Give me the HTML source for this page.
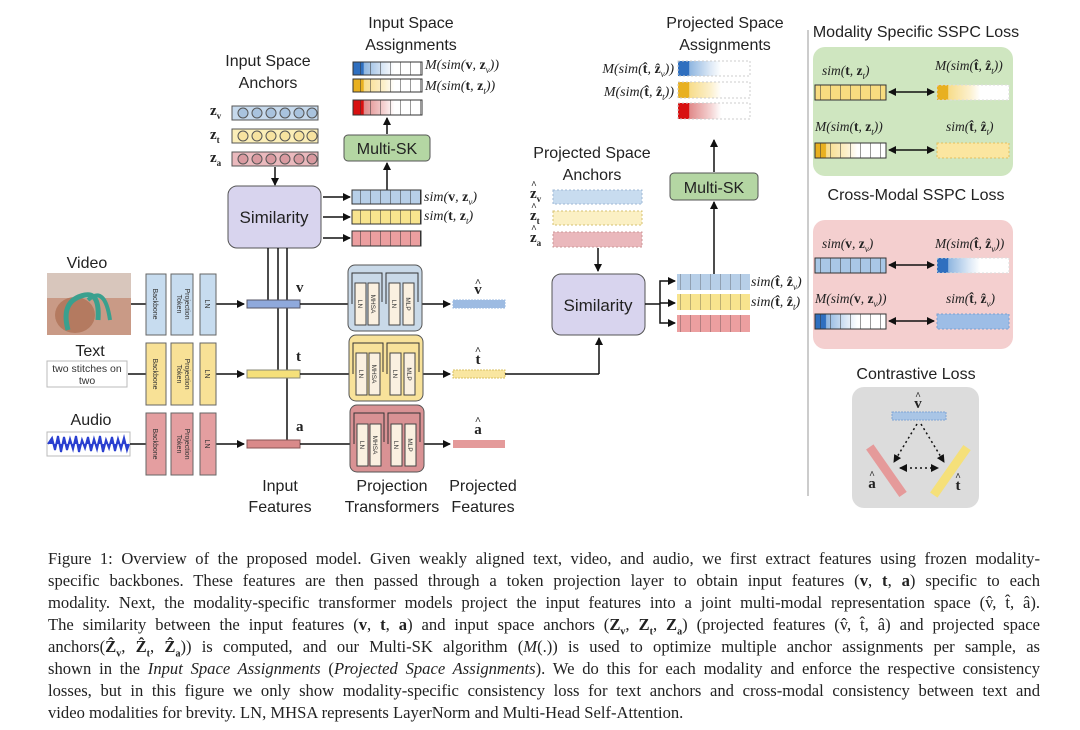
<!DOCTYPE html>
<html><head><meta charset="utf-8"><style>
body{margin:0;background:#fff;width:1080px;height:730px;overflow:hidden;position:relative;font-family:"Liberation Sans",sans-serif}
svg{position:absolute;left:0;top:0}
.cap{position:absolute;left:48px;width:992px;font-family:"Liberation Serif",serif;font-size:16.6px;line-height:22px;color:#222}
.cap div{text-align:justify;text-align-last:justify;white-space:nowrap;height:22px}
.cap div.last{text-align-last:left}
.s{font-family:"Liberation Sans",sans-serif}
.m{font-family:"Liberation Serif",serif;font-style:italic}
</style></head><body>
<svg width="1080" height="540" viewBox="0 0 1080 540" font-family="Liberation Sans, sans-serif">
<defs>
<marker id="ar" markerWidth="8" markerHeight="8" refX="7" refY="4" orient="auto" markerUnits="userSpaceOnUse"><path d="M0,0 L8,4 L0,8 z" fill="#111"/></marker>
<marker id="al" markerWidth="8" markerHeight="8" refX="1" refY="4" orient="auto" markerUnits="userSpaceOnUse"><path d="M8,0 L0,4 L8,8 z" fill="#111"/></marker>
<linearGradient id="gb" x1="0" x2="1"><stop offset="0" stop-color="#2f6fbf"/><stop offset="0.15" stop-color="#2f6fbf"/><stop offset="0.16" stop-color="#8fb6e0"/><stop offset="0.45" stop-color="#dde9f6"/><stop offset="0.6" stop-color="#fff"/></linearGradient>
<linearGradient id="gy" x1="0" x2="1"><stop offset="0" stop-color="#e8b020"/><stop offset="0.15" stop-color="#e8b020"/><stop offset="0.16" stop-color="#f7dc8a"/><stop offset="0.45" stop-color="#fcf0cc"/><stop offset="0.6" stop-color="#fff"/></linearGradient>
<linearGradient id="gr" x1="0" x2="1"><stop offset="0" stop-color="#d81010"/><stop offset="0.15" stop-color="#d81010"/><stop offset="0.16" stop-color="#e08a8a"/><stop offset="0.45" stop-color="#f4d2d2"/><stop offset="0.6" stop-color="#fff"/></linearGradient>
<pattern id="cell" width="10" height="40" patternUnits="userSpaceOnUse"><line x1="0" y1="0" x2="0" y2="40" stroke="#333" stroke-width="1"/></pattern>
</defs>

<g font-size="16" fill="#222" text-anchor="middle">
<text x="411" y="28">Input Space</text><text x="411" y="50">Assignments</text>
<text x="268" y="66">Input Space</text><text x="268" y="88">Anchors</text>
<text x="725" y="28">Projected Space</text><text x="725" y="50">Assignments</text>
<text x="592" y="158">Projected Space</text><text x="592" y="180">Anchors</text>
<text x="87" y="268">Video</text><text x="90" y="356">Text</text><text x="91" y="425">Audio</text>
<text x="280" y="491">Input</text><text x="280" y="512">Features</text>
<text x="392" y="491">Projection</text><text x="392" y="512">Transformers</text>
<text x="483" y="491">Projected</text><text x="483" y="512">Features</text>
<text x="916" y="37">Modality Specific  SSPC Loss</text>
<text x="916" y="200">Cross-Modal SSPC Loss</text>
<text x="916" y="379">Contrastive Loss</text>
</g>

<rect x="353" y="62" width="69" height="13" fill="url(#gb)" stroke="#333"/><rect x="353" y="62" width="69" height="13" fill="url(#cell)"/>
<rect x="353" y="79" width="69" height="13" fill="url(#gy)" stroke="#333"/><rect x="353" y="79" width="69" height="13" fill="url(#cell)"/>
<rect x="353" y="100" width="69" height="15" fill="url(#gr)" stroke="#333"/><rect x="353" y="100" width="69" height="15" fill="url(#cell)"/>
<g class="m" font-size="14" fill="#222"><text x="425" y="69">M(sim(<tspan font-weight="bold" font-style="normal">v</tspan>, <tspan font-weight="bold" font-style="normal">z</tspan><tspan font-size="9" dy="4">v</tspan><tspan dy="-4">))</tspan></text>
<text x="425" y="90">M(sim(<tspan font-weight="bold" font-style="normal">t</tspan>, <tspan font-weight="bold" font-style="normal">z</tspan><tspan font-size="9" dy="4">t</tspan><tspan dy="-4">))</tspan></text></g>
<line x1="387" y1="134" x2="387" y2="118" stroke="#111" stroke-width="1.5" marker-end="url(#ar)"/>
<rect x="344" y="135" width="86" height="26" rx="4" fill="#b4d6a3" stroke="#555"/>
<text x="387" y="154" font-size="16" text-anchor="middle" fill="#222">Multi-SK</text>
<line x1="387" y1="190" x2="387" y2="163" stroke="#111" stroke-width="1.5" marker-end="url(#ar)"/>

<g font-family="Liberation Serif, serif" font-weight="bold" font-size="15" fill="#222">
<text x="210" y="115">z<tspan font-size="9" dy="4">v</tspan></text>
<text x="210" y="139">z<tspan font-size="9" dy="4">t</tspan></text>
<text x="210" y="162">z<tspan font-size="9" dy="4">a</tspan></text></g>
<rect x="232" y="106" width="86" height="14" fill="#c6d9ec" stroke="#555"/>
<rect x="232" y="129" width="86" height="14" fill="#fbeeb8" stroke="#555"/>
<rect x="232" y="152" width="86" height="14" fill="#eab9bd" stroke="#555"/>
<g stroke="#555" stroke-width="1">
<g fill="#a9c3de"><circle cx="243" cy="113" r="5"/><circle cx="257" cy="113" r="5"/><circle cx="271" cy="113" r="5"/><circle cx="285" cy="113" r="5"/><circle cx="299" cy="113" r="5"/><circle cx="312" cy="113" r="5"/></g>
<g fill="#f7e3a0"><circle cx="243" cy="136" r="5"/><circle cx="257" cy="136" r="5"/><circle cx="271" cy="136" r="5"/><circle cx="285" cy="136" r="5"/><circle cx="299" cy="136" r="5"/><circle cx="312" cy="136" r="5"/></g>
<g fill="#d99aa0"><circle cx="243" cy="159" r="5"/><circle cx="257" cy="159" r="5"/><circle cx="271" cy="159" r="5"/><circle cx="285" cy="159" r="5"/><circle cx="299" cy="159" r="5"/><circle cx="312" cy="159" r="5"/></g></g>
<line x1="275" y1="167" x2="275" y2="185" stroke="#111" stroke-width="1.5" marker-end="url(#ar)"/>

<rect x="228" y="186" width="93" height="62" rx="9" fill="#d8d4ee" stroke="#555"/>
<text x="274" y="223" font-size="17" text-anchor="middle" fill="#222">Similarity</text>
<g stroke="#111" stroke-width="1.5">
<line x1="323" y1="197" x2="350" y2="197" marker-end="url(#ar)"/>
<line x1="323" y1="217" x2="350" y2="217" marker-end="url(#ar)"/>
<line x1="323" y1="238" x2="350" y2="238" marker-end="url(#ar)"/></g>
<rect x="352" y="190" width="69" height="14" fill="#b7cfe8" stroke="#333"/><rect x="352" y="190" width="69" height="14" fill="url(#cell)"/>
<rect x="352" y="210" width="69" height="14" fill="#f8e48e" stroke="#333"/><rect x="352" y="210" width="69" height="14" fill="url(#cell)"/>
<rect x="352" y="231" width="69" height="15" fill="#ec9fa0" stroke="#333"/><rect x="352" y="231" width="69" height="15" fill="url(#cell)"/>
<g class="m" font-size="14" fill="#222"><text x="424" y="201">sim(<tspan font-weight="bold" font-style="normal">v</tspan>, <tspan font-weight="bold" font-style="normal">z</tspan><tspan font-size="9" dy="4">v</tspan><tspan dy="-4">)</tspan></text>
<text x="424" y="220">sim(<tspan font-weight="bold" font-style="normal">t</tspan>, <tspan font-weight="bold" font-style="normal">z</tspan><tspan font-size="9" dy="4">t</tspan><tspan dy="-4">)</tspan></text></g>

<g stroke="#111" stroke-width="1.5">
<line x1="268" y1="248" x2="268" y2="303"/><line x1="278" y1="248" x2="278" y2="373"/><line x1="287" y1="248" x2="287" y2="443"/></g>

<rect x="47" y="273" width="84" height="62" fill="#c99a86"/>
<rect x="47" y="273" width="84" height="25" fill="#d8c6bc"/>
<ellipse cx="75" cy="315" rx="20" ry="18" fill="#b47a60"/>
<path d="M68 330 Q60 300 85 295 Q100 292 98 320" fill="none" stroke="#3aa08e" stroke-width="5"/>
<path d="M88 300 Q105 285 110 320" fill="none" stroke="#3aa08e" stroke-width="4"/>
<rect x="47" y="361" width="80" height="26" fill="#fff" stroke="#bbb"/>
<text x="87" y="372" font-size="10.5" text-anchor="middle" fill="#333">two stitches on</text>
<text x="87" y="384" font-size="10.5" text-anchor="middle" fill="#333">two</text>
<rect x="47" y="432" width="83" height="24" fill="#fff" stroke="#bbb"/>
<path d="M48 444 L52 438 L55 450 L58 436 L61 452 L64 437 L67 450 L70 439 L73 449 L76 436 L79 452 L82 440 L85 448 L88 437 L91 451 L94 439 L97 449 L100 436 L103 452 L106 440 L109 448 L112 437 L115 451 L118 439 L121 449 L124 438 L127 450 L129 444" fill="#2a3fd0" stroke="#2a3fd0" stroke-width="2"/>

<g stroke="#111" stroke-width="1.5">
<line x1="131" y1="304" x2="146" y2="304"/><line x1="128" y1="374" x2="146" y2="374"/><line x1="130" y1="444" x2="146" y2="444"/>
<line x1="216" y1="304" x2="244" y2="304" marker-end="url(#ar)"/>
<line x1="216" y1="374" x2="244" y2="374" marker-end="url(#ar)"/>
<line x1="216" y1="444" x2="244" y2="444" marker-end="url(#ar)"/>
</g>
<g stroke="#666" stroke-width="1">
<rect x="146" y="274" width="20" height="61" fill="#c7dcef"/><rect x="171" y="274" width="22" height="61" fill="#c7dcef"/><rect x="200" y="274" width="16" height="61" fill="#c7dcef"/>
<rect x="146" y="343" width="20" height="62" fill="#f8e196"/><rect x="171" y="343" width="22" height="62" fill="#f8e196"/><rect x="200" y="343" width="16" height="62" fill="#f8e196"/>
<rect x="146" y="413" width="20" height="62" fill="#e49ea0"/><rect x="171" y="413" width="22" height="62" fill="#e49ea0"/><rect x="200" y="413" width="16" height="62" fill="#e49ea0"/>
</g>
<g font-size="7" fill="#333" text-anchor="middle">
<text transform="translate(153,304) rotate(90)">Backbone</text><text transform="translate(177,304) rotate(90)">Token</text><text transform="translate(185,304) rotate(90)">Projection</text><text transform="translate(205,304) rotate(90)">LN</text>
<text transform="translate(153,374) rotate(90)">Backbone</text><text transform="translate(177,374) rotate(90)">Token</text><text transform="translate(185,374) rotate(90)">Projection</text><text transform="translate(205,374) rotate(90)">LN</text>
<text transform="translate(153,444) rotate(90)">Backbone</text><text transform="translate(177,444) rotate(90)">Token</text><text transform="translate(185,444) rotate(90)">Projection</text><text transform="translate(205,444) rotate(90)">LN</text>
</g>

<rect x="247" y="300" width="53" height="8" fill="#8fa9dc" stroke="#556"/>
<rect x="247" y="370" width="53" height="8" fill="#f5e07a" stroke="#887"/>
<rect x="247" y="440" width="53" height="8" fill="#d98a8a" stroke="#855"/>
<g font-family="Liberation Serif, serif" font-weight="bold" font-size="15" fill="#222">
<text x="296" y="292">v</text><text x="296" y="361">t</text><text x="296" y="431">a</text></g>
<g stroke="#111" stroke-width="1.5">
<line x1="300" y1="304" x2="450" y2="304" marker-end="url(#ar)"/>
<line x1="300" y1="374" x2="450" y2="374" marker-end="url(#ar)"/>
<line x1="300" y1="444" x2="450" y2="444" marker-end="url(#ar)"/></g>

<rect x="348" y="265" width="74" height="66" rx="7" fill="#c9d9e8" stroke="#555"/>
<rect x="349" y="335" width="74" height="66" rx="7" fill="#f8e29a" stroke="#555"/>
<rect x="350" y="405" width="74" height="67" rx="7" fill="#d99294" stroke="#555"/>
<g stroke="#444" stroke-width="1" fill="#faf0e0">
<rect x="355" y="283" width="11" height="42"/><rect x="368" y="283" width="11" height="42"/><rect x="389" y="283" width="11" height="42"/><rect x="403" y="283" width="11" height="42"/>
<rect x="356" y="353" width="11" height="42"/><rect x="369" y="353" width="11" height="42"/><rect x="390" y="353" width="11" height="42"/><rect x="404" y="353" width="11" height="42"/>
<rect x="357" y="424" width="11" height="42"/><rect x="370" y="424" width="11" height="42"/><rect x="391" y="424" width="11" height="42"/><rect x="405" y="424" width="11" height="42"/>
</g>
<g stroke="#333" stroke-width="1" fill="none">
<path d="M352 304 V273 H382 V302"/><path d="M386 304 V273 H418 V302"/>
<path d="M353 374 V343 H383 V372"/><path d="M387 374 V343 H419 V372"/>
<path d="M354 444 V413 H384 V442"/><path d="M388 444 V413 H420 V442"/></g>
<g font-size="6.5" fill="#333" text-anchor="middle">
<text transform="translate(358,304) rotate(90)">LN</text><text transform="translate(371,304) rotate(90)">MHSA</text><text transform="translate(392,304) rotate(90)">LN</text><text transform="translate(406,304) rotate(90)">MLP</text>
<text transform="translate(359,374) rotate(90)">LN</text><text transform="translate(372,374) rotate(90)">MHSA</text><text transform="translate(393,374) rotate(90)">LN</text><text transform="translate(407,374) rotate(90)">MLP</text>
<text transform="translate(360,445) rotate(90)">LN</text><text transform="translate(373,445) rotate(90)">MHSA</text><text transform="translate(394,445) rotate(90)">LN</text><text transform="translate(408,445) rotate(90)">MLP</text></g>

<rect x="453" y="300" width="52" height="8" fill="#9dbbe2" stroke="#9dbbe2" stroke-dasharray="2 1"/>
<rect x="453" y="370" width="52" height="8" fill="#f9e6a0" stroke="#d9c060" stroke-dasharray="2 1"/>
<rect x="453" y="440" width="52" height="8" fill="#e49a9a"/>
<g font-family="Liberation Serif, serif" font-weight="bold" font-size="15" fill="#222" text-anchor="middle">
<text x="478" y="294">v</text><text x="478" y="286" font-size="11">^</text>
<text x="478" y="364">t</text><text x="478" y="354" font-size="11">^</text>
<text x="478" y="434">a</text><text x="478" y="424" font-size="11">^</text></g>
<line x1="505" y1="374" x2="599" y2="374" stroke="#111" stroke-width="1.5"/>
<line x1="599" y1="374" x2="599" y2="338" stroke="#111" stroke-width="1.5" marker-end="url(#ar)"/>

<g font-family="Liberation Serif, serif" font-weight="bold" font-size="15" fill="#222">
<text x="530" y="198">z<tspan font-size="9" dy="4">v</tspan></text><text x="531" y="188" font-size="10">^</text>
<text x="530" y="220">z<tspan font-size="9" dy="4">t</tspan></text><text x="531" y="210" font-size="10">^</text>
<text x="530" y="242">z<tspan font-size="9" dy="4">a</tspan></text><text x="531" y="232" font-size="10">^</text></g>
<rect x="553" y="190" width="89" height="14" fill="#c8dcef" stroke="#9fb8d6" stroke-dasharray="2 2"/>
<rect x="553" y="211" width="89" height="14" fill="#fbf0c4" stroke="#d6c070" stroke-dasharray="2 2"/>
<rect x="553" y="232" width="89" height="15" fill="#eab8bc" stroke="#c99" stroke-dasharray="2 2"/>
<line x1="598" y1="248" x2="598" y2="271" stroke="#111" stroke-width="1.5" marker-end="url(#ar)"/>

<rect x="552" y="274" width="93" height="61" rx="9" fill="#d8d4ee" stroke="#555"/>
<text x="598" y="311" font-size="17" text-anchor="middle" fill="#222">Similarity</text>
<g stroke="#111" stroke-width="1.5" fill="none">
<line x1="645" y1="304" x2="660" y2="304"/>
<path d="M660 304 V281 H675" marker-end="url(#ar)"/><line x1="660" y1="303" x2="675" y2="303" marker-end="url(#ar)"/><path d="M660 304 V323 H675" marker-end="url(#ar)"/></g>
<rect x="677" y="274" width="73" height="16" fill="#b7cfe8"/><rect x="677" y="274" width="73" height="16" fill="url(#cell)" opacity=".6"/>
<rect x="677" y="294" width="73" height="16" fill="#f8e48e"/><rect x="677" y="294" width="73" height="16" fill="url(#cell)" opacity=".6"/>
<rect x="677" y="315" width="73" height="17" fill="#ec9fa0"/><rect x="677" y="315" width="73" height="17" fill="url(#cell)" opacity=".6"/>
<g class="m" font-size="14" fill="#222"><text x="751" y="286">sim(<tspan font-weight="bold" font-style="normal">t̂</tspan>, <tspan font-weight="bold" font-style="normal">ẑ</tspan><tspan font-size="9" dy="4">v</tspan><tspan dy="-4">)</tspan></text>
<text x="751" y="306">sim(<tspan font-weight="bold" font-style="normal">t̂</tspan>, <tspan font-weight="bold" font-style="normal">ẑ</tspan><tspan font-size="9" dy="4">t</tspan><tspan dy="-4">)</tspan></text></g>
<line x1="714" y1="274" x2="714" y2="202" stroke="#111" stroke-width="1.5" marker-end="url(#ar)"/>
<rect x="670" y="173" width="88" height="27" rx="4" fill="#b4d6a3" stroke="#555"/>
<text x="714" y="193" font-size="16" text-anchor="middle" fill="#222">Multi-SK</text>
<line x1="714" y1="172" x2="714" y2="140" stroke="#111" stroke-width="1.5" marker-end="url(#ar)"/>

<rect x="678" y="61" width="72" height="15" fill="url(#gb)" stroke="#ccc" stroke-dasharray="2 2"/>
<rect x="678" y="82" width="72" height="16" fill="url(#gy)" stroke="#ccc" stroke-dasharray="2 2"/>
<rect x="678" y="103" width="72" height="16" fill="url(#gr)" stroke="#ccc" stroke-dasharray="2 2"/>
<g class="m" font-size="14" fill="#222" text-anchor="end"><text x="674" y="73">M(sim(<tspan font-weight="bold" font-style="normal">t̂</tspan>, <tspan font-weight="bold" font-style="normal">ẑ</tspan><tspan font-size="9" dy="4">v</tspan><tspan dy="-4">))</tspan></text>
<text x="674" y="96">M(sim(<tspan font-weight="bold" font-style="normal">t̂</tspan>, <tspan font-weight="bold" font-style="normal">ẑ</tspan><tspan font-size="9" dy="4">t</tspan><tspan dy="-4">))</tspan></text></g>

<line x1="808" y1="30" x2="808" y2="496" stroke="#999" stroke-width="1"/>

<rect x="813" y="47" width="200" height="129" rx="12" fill="#cfe6c0"/>
<g class="m" font-size="13.5" fill="#222">
<text x="822" y="75">sim(<tspan font-weight="bold" font-style="normal">t</tspan>, <tspan font-weight="bold" font-style="normal">z</tspan><tspan font-size="9" dy="4">t</tspan><tspan dy="-4">)</tspan></text>
<text x="935" y="70">M(sim(<tspan font-weight="bold" font-style="normal">t̂</tspan>, <tspan font-weight="bold" font-style="normal">ẑ</tspan><tspan font-size="9" dy="4">t</tspan><tspan dy="-4">))</tspan></text>
<text x="815" y="131">M(sim(<tspan font-weight="bold" font-style="normal">t</tspan>, <tspan font-weight="bold" font-style="normal">z</tspan><tspan font-size="9" dy="4">t</tspan><tspan dy="-4">))</tspan></text>
<text x="946" y="131">sim(<tspan font-weight="bold" font-style="normal">t̂</tspan>, <tspan font-weight="bold" font-style="normal">ẑ</tspan><tspan font-size="9" dy="4">t</tspan><tspan dy="-4">)</tspan></text></g>
<rect x="815" y="85" width="71" height="15" fill="#f8dc80" stroke="#333"/><rect x="815" y="85" width="71" height="15" fill="url(#cell)"/>
<rect x="937" y="85" width="72" height="15" fill="url(#gy)" stroke="#ddd" stroke-dasharray="2 2"/>
<rect x="815" y="143" width="71" height="15" fill="url(#gy)" stroke="#333"/><rect x="815" y="143" width="71" height="15" fill="url(#cell)"/>
<rect x="937" y="143" width="72" height="15" fill="#fbe6a0" stroke="#e0c060" stroke-dasharray="2 2"/>
<g stroke="#111" stroke-width="1.5"><line x1="889" y1="92" x2="934" y2="92" marker-start="url(#al)" marker-end="url(#ar)"/><line x1="889" y1="150" x2="934" y2="150" marker-start="url(#al)" marker-end="url(#ar)"/></g>

<rect x="813" y="220" width="200" height="129" rx="12" fill="#f4cfcf"/>
<g class="m" font-size="13.5" fill="#222">
<text x="822" y="248">sim(<tspan font-weight="bold" font-style="normal">v</tspan>, <tspan font-weight="bold" font-style="normal">z</tspan><tspan font-size="9" dy="4">v</tspan><tspan dy="-4">)</tspan></text>
<text x="935" y="248">M(sim(<tspan font-weight="bold" font-style="normal">t̂</tspan>, <tspan font-weight="bold" font-style="normal">ẑ</tspan><tspan font-size="9" dy="4">v</tspan><tspan dy="-4">))</tspan></text>
<text x="815" y="303">M(sim(<tspan font-weight="bold" font-style="normal">v</tspan>, <tspan font-weight="bold" font-style="normal">z</tspan><tspan font-size="9" dy="4">v</tspan><tspan dy="-4">))</tspan></text>
<text x="946" y="303">sim(<tspan font-weight="bold" font-style="normal">t̂</tspan>, <tspan font-weight="bold" font-style="normal">ẑ</tspan><tspan font-size="9" dy="4">v</tspan><tspan dy="-4">)</tspan></text></g>
<rect x="815" y="258" width="71" height="15" fill="#a9c7e6" stroke="#333"/><rect x="815" y="258" width="71" height="15" fill="url(#cell)"/>
<rect x="937" y="258" width="72" height="15" fill="url(#gb)" stroke="#ddd" stroke-dasharray="2 2"/>
<rect x="815" y="314" width="71" height="15" fill="url(#gb)" stroke="#333"/><rect x="815" y="314" width="71" height="15" fill="url(#cell)"/>
<rect x="937" y="314" width="72" height="15" fill="#9dbde6" stroke="#7aa0d0" stroke-dasharray="2 2"/>
<g stroke="#111" stroke-width="1.5"><line x1="889" y1="265" x2="934" y2="265" marker-start="url(#al)" marker-end="url(#ar)"/><line x1="889" y1="321" x2="934" y2="321" marker-start="url(#al)" marker-end="url(#ar)"/></g>

<rect x="852" y="387" width="127" height="121" rx="12" fill="#dcdcdc"/>
<rect x="892" y="412" width="54" height="8" fill="#a9c5e6" stroke="#7fa5d4" stroke-dasharray="2 1"/>
<rect x="882" y="442" width="9" height="58" fill="#e59a9a" transform="rotate(-35 886 471)"/>
<rect x="946" y="442" width="9" height="58" fill="#f5e07a" transform="rotate(35 950 471)"/>
<g stroke="#111" stroke-width="1.5" stroke-dasharray="2 3" fill="none">
<line x1="917" y1="424" x2="894" y2="462" marker-end="url(#ar)"/>
<line x1="921" y1="424" x2="944" y2="462" marker-end="url(#ar)"/>
<line x1="900" y1="468" x2="938" y2="468" marker-start="url(#al)" marker-end="url(#ar)"/></g>
<g font-family="Liberation Serif, serif" font-weight="bold" font-size="15" fill="#222" text-anchor="middle">
<text x="918" y="408">v</text><text x="918" y="399" font-size="10">^</text>
<text x="872" y="488">a</text><text x="872" y="478" font-size="10">^</text>
<text x="958" y="490">t</text><text x="958" y="480" font-size="10">^</text></g>
</svg>

<div class="cap" style="top:548px">
<div>Figure 1: Overview of the proposed model. Given weakly aligned text, video, and audio, we first extract features using frozen modality-</div>
<div>specific backbones. These features are then passed through a token projection layer to obtain input features (<b>v</b>, <b>t</b>, <b>a</b>) specific to each</div>
<div>modality. Next, the modality-specific transformer models project the input features into a joint multi-modal representation space (v̂, t̂, â).</div>
<div>The similarity between the input features (<b>v</b>, <b>t</b>, <b>a</b>) and input space anchors (<b>Z<sub style="font-size:10px">v</sub></b>, <b>Z<sub style="font-size:10px">t</sub></b>, <b>Z<sub style="font-size:10px">a</sub></b>) (projected features (v̂, t̂, â) and projected space</div>
<div>anchors(<b>Ẑ<sub style="font-size:10px">v</sub></b>, <b>Ẑ<sub style="font-size:10px">t</sub></b>, <b>Ẑ<sub style="font-size:10px">a</sub></b>)) is computed, and our Multi-SK algorithm (<i>M</i>(.)) is used to optimize multiple anchor assignments per sample, as</div>
<div>shown in the <i>Input Space Assignments</i> (<i>Projected Space Assignments</i>). We do this for each modality and enforce the respective consistency</div>
<div>losses, but in this figure we only show modality-specific consistency loss for text anchors and cross-modal consistency between text and</div>
<div class="last">video modalities for brevity. LN, MHSA represents LayerNorm and Multi-Head Self-Attention.</div>
</div>
</body></html>
